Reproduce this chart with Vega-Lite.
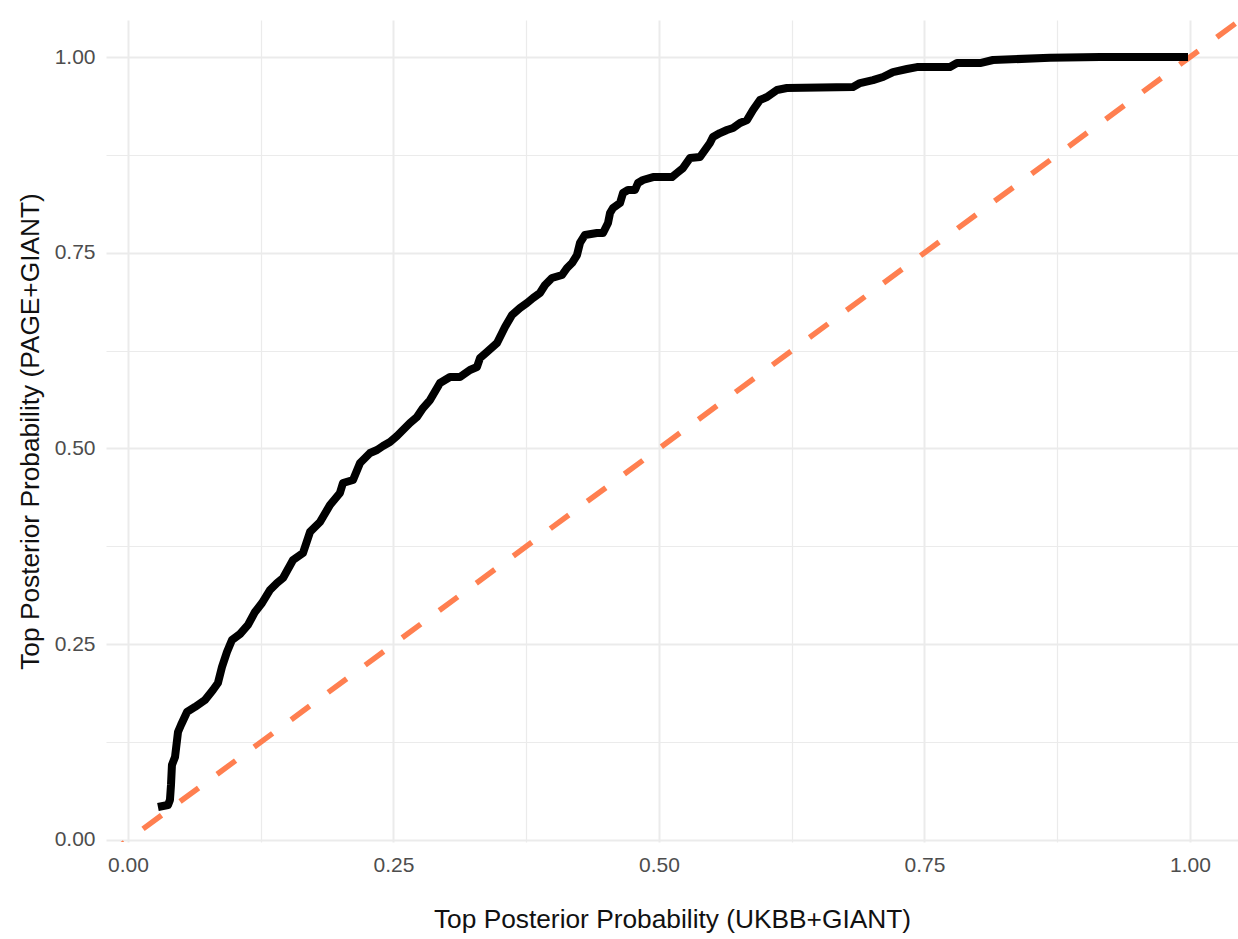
{
  "$schema": "https://vega.github.io/schema/vega-lite/v6.json",
  "autosize": {"type": "none"},
  "width": 1132,
  "height": 822,
  "padding": {"left": 106, "top": 20, "right": 0, "bottom": 97},
  "background": "white",
  "config": {
    "view": {"stroke": null},
    "font": "Liberation Sans",
    "axis": {
      "domain": false,
      "ticks": false,
      "gridColor": "#ebebeb",
      "labelColor": "#4d4d4d",
      "labelFont": "Liberation Sans",
      "labelFontSize": 21,
      "titleFont": "Liberation Sans",
      "titleFontSize": 26.3,
      "titleFontWeight": "normal",
      "titleColor": "#111111"
    }
  },
  "datasets": {
    "curve": [
      {"x": 0.0282, "y": 0.0421},
      {"x": 0.0377, "y": 0.0447},
      {"x": 0.0395, "y": 0.0511},
      {"x": 0.0405, "y": 0.0702},
      {"x": 0.0414, "y": 0.0958},
      {"x": 0.0443, "y": 0.1060},
      {"x": 0.0471, "y": 0.1379},
      {"x": 0.0499, "y": 0.1469},
      {"x": 0.0556, "y": 0.1635},
      {"x": 0.0631, "y": 0.1699},
      {"x": 0.0725, "y": 0.1788},
      {"x": 0.0800, "y": 0.1916},
      {"x": 0.0847, "y": 0.2005},
      {"x": 0.0885, "y": 0.2209},
      {"x": 0.0932, "y": 0.2401},
      {"x": 0.0979, "y": 0.2554},
      {"x": 0.1055, "y": 0.2631},
      {"x": 0.1130, "y": 0.2746},
      {"x": 0.1196, "y": 0.2912},
      {"x": 0.1262, "y": 0.3027},
      {"x": 0.1337, "y": 0.3193},
      {"x": 0.1403, "y": 0.3282},
      {"x": 0.1460, "y": 0.3346},
      {"x": 0.1554, "y": 0.3576},
      {"x": 0.1648, "y": 0.3665},
      {"x": 0.1714, "y": 0.3934},
      {"x": 0.1808, "y": 0.4061},
      {"x": 0.1902, "y": 0.4278},
      {"x": 0.1996, "y": 0.4432},
      {"x": 0.2024, "y": 0.4559},
      {"x": 0.2119, "y": 0.4598},
      {"x": 0.2185, "y": 0.4815},
      {"x": 0.2279, "y": 0.4943},
      {"x": 0.2345, "y": 0.4981},
      {"x": 0.2401, "y": 0.5032},
      {"x": 0.2467, "y": 0.5083},
      {"x": 0.2533, "y": 0.5160},
      {"x": 0.2589, "y": 0.5236},
      {"x": 0.2655, "y": 0.5326},
      {"x": 0.2721, "y": 0.5402},
      {"x": 0.2778, "y": 0.5517},
      {"x": 0.2844, "y": 0.5619},
      {"x": 0.2938, "y": 0.5837},
      {"x": 0.3032, "y": 0.5913},
      {"x": 0.3126, "y": 0.5913},
      {"x": 0.3220, "y": 0.6003},
      {"x": 0.3286, "y": 0.6041},
      {"x": 0.3315, "y": 0.6156},
      {"x": 0.3380, "y": 0.6232},
      {"x": 0.3475, "y": 0.6347},
      {"x": 0.3522, "y": 0.6475},
      {"x": 0.3550, "y": 0.6552},
      {"x": 0.3616, "y": 0.6705},
      {"x": 0.3691, "y": 0.6794},
      {"x": 0.3757, "y": 0.6858},
      {"x": 0.3814, "y": 0.6922},
      {"x": 0.3879, "y": 0.6986},
      {"x": 0.3927, "y": 0.7088},
      {"x": 0.3992, "y": 0.7178},
      {"x": 0.4087, "y": 0.7216},
      {"x": 0.4134, "y": 0.7305},
      {"x": 0.4181, "y": 0.7369},
      {"x": 0.4228, "y": 0.7471},
      {"x": 0.4256, "y": 0.7625},
      {"x": 0.4303, "y": 0.7727},
      {"x": 0.4416, "y": 0.7752},
      {"x": 0.4473, "y": 0.7752},
      {"x": 0.4520, "y": 0.7880},
      {"x": 0.4539, "y": 0.8008},
      {"x": 0.4567, "y": 0.8072},
      {"x": 0.4633, "y": 0.8135},
      {"x": 0.4661, "y": 0.8263},
      {"x": 0.4708, "y": 0.8301},
      {"x": 0.4774, "y": 0.8301},
      {"x": 0.4802, "y": 0.8391},
      {"x": 0.4849, "y": 0.8429},
      {"x": 0.4944, "y": 0.8467},
      {"x": 0.5122, "y": 0.8467},
      {"x": 0.5169, "y": 0.8519},
      {"x": 0.5226, "y": 0.8582},
      {"x": 0.5292, "y": 0.8710},
      {"x": 0.5386, "y": 0.8723},
      {"x": 0.5433, "y": 0.8812},
      {"x": 0.5480, "y": 0.8902},
      {"x": 0.5508, "y": 0.8978},
      {"x": 0.5574, "y": 0.9029},
      {"x": 0.5640, "y": 0.9068},
      {"x": 0.5697, "y": 0.9093},
      {"x": 0.5763, "y": 0.9157},
      {"x": 0.5829, "y": 0.9195},
      {"x": 0.5885, "y": 0.9323},
      {"x": 0.5951, "y": 0.9451},
      {"x": 0.6017, "y": 0.9489},
      {"x": 0.6111, "y": 0.9579},
      {"x": 0.6205, "y": 0.9604},
      {"x": 0.6827, "y": 0.9617},
      {"x": 0.6893, "y": 0.9668},
      {"x": 0.7015, "y": 0.9706},
      {"x": 0.7109, "y": 0.9745},
      {"x": 0.7203, "y": 0.9808},
      {"x": 0.7335, "y": 0.9847},
      {"x": 0.7429, "y": 0.9872},
      {"x": 0.7740, "y": 0.9872},
      {"x": 0.7806, "y": 0.9923},
      {"x": 0.8023, "y": 0.9923},
      {"x": 0.8145, "y": 0.9962},
      {"x": 0.8682, "y": 0.9990},
      {"x": 0.9153, "y": 1.0},
      {"x": 0.9981, "y": 1.0}
    ],
    "diag": [
      {"x": -0.0207, "y": -0.0207},
      {"x": 1.0452, "y": 1.0452}
    ]
  },
  "layer": [
    {
      "data": {"name": "diag"},
      "mark": {"type": "line", "color": "#FF7F50", "strokeWidth": 5.5, "strokeDash": [23, 23], "strokeCap": "butt", "clip": true},
      "encoding": {
        "x": {
          "field": "x",
          "type": "quantitative",
          "scale": {"domain": [-0.0207, 1.0452], "nice": false, "zero": false},
          "axis": {
            "title": "Top Posterior Probability (UKBB+GIANT)",
            "values": [0, 0.125, 0.25, 0.375, 0.5, 0.625, 0.75, 0.875, 1.0],
            "labelExpr": "abs(round(datum.value*4) - datum.value*4) < 0.01 ? format(datum.value, '.2f') : ''",
            "gridWidth": {"condition": {"test": "abs(round(datum.value*4) - datum.value*4) < 0.01", "value": 2}, "value": 1.2},
            "labelPadding": 12,
            "titlePadding": 31,
            "labelFlush": false,
            "labelOverlap": false
          }
        },
        "y": {
          "field": "y",
          "type": "quantitative",
          "scale": {"domain": [-0.0026, 1.0473], "nice": false, "zero": false},
          "axis": {
            "title": "Top Posterior Probability (PAGE+GIANT)",
            "values": [0, 0.125, 0.25, 0.375, 0.5, 0.625, 0.75, 0.875, 1.0],
            "labelExpr": "abs(round(datum.value*4) - datum.value*4) < 0.01 ? format(datum.value, '.2f') : ''",
            "gridWidth": {"condition": {"test": "abs(round(datum.value*4) - datum.value*4) < 0.01", "value": 2}, "value": 1.2},
            "labelPadding": 11,
            "titlePadding": 10,
            "labelFlush": false,
            "labelOverlap": false
          }
        }
      }
    },
    {
      "data": {"name": "curve"},
      "mark": {"type": "line", "color": "black", "strokeWidth": 8, "strokeJoin": "round", "strokeCap": "butt", "clip": true},
      "encoding": {
        "x": {"field": "x", "type": "quantitative"},
        "y": {"field": "y", "type": "quantitative"}
      }
    }
  ]
}
